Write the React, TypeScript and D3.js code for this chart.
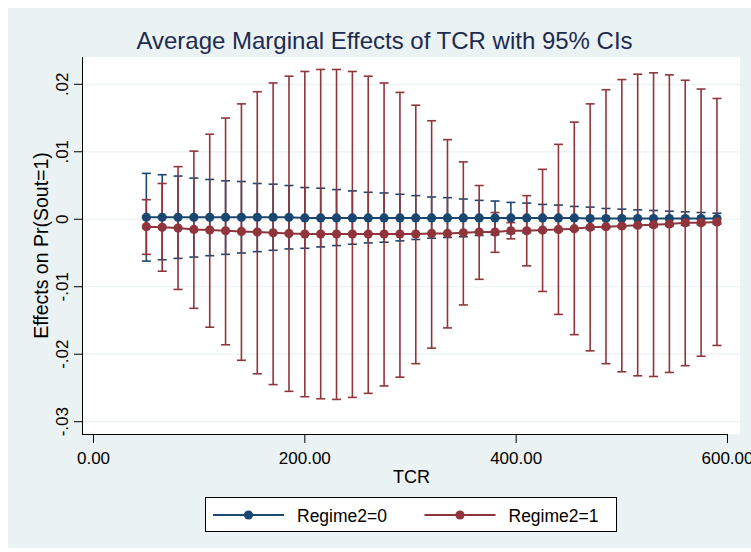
import * as d3 from "d3";

// TCR values on the x axis
const tcr = [
  50, 65, 80, 95, 110, 125, 140, 155, 170, 185, 200, 215, 230, 245, 260, 275,
  290, 305, 320, 335, 350, 365, 380, 395, 410, 425, 440, 455, 470, 485, 500,
  515, 530, 545, 560, 575, 590,
];

// Regime2=0
const meanR0 = [
  0.0003, 0.0003, 0.0003, 0.0003, 0.0003, 0.0003, 0.0003, 0.0003, 0.0003,
  0.0003, 0.0002, 0.0002, 0.0002, 0.0002, 0.0002, 0.0002, 0.0002, 0.0002,
  0.0002, 0.0002, 0.0002, 0.0002, 0.0002, 0.0002, 0.0002, 0.0002, 0.0002,
  0.0002, 0.0001, 0.0001, 0.0001, 0.0001, 0.0001, 0.0001, 0.0001, 0.0001,
  0.0001,
];
const lowR0 = [
  -0.0062, -0.006, -0.0058, -0.0056, -0.0054, -0.0052, -0.005, -0.0048,
  -0.0046, -0.0044, -0.0043, -0.0041, -0.0039, -0.0037, -0.0035, -0.0034,
  -0.0032, -0.003, -0.0028, -0.0027, -0.0026, -0.0024, -0.0023, -0.0021,
  -0.002, -0.0018, -0.0017, -0.0016, -0.0015, -0.0013, -0.0012, -0.0011,
  -0.0011, -0.001, -0.0009, -0.0008, -0.0007,
];
const highR0 = [
  0.0068, 0.0066, 0.0064, 0.0061, 0.0059, 0.0057, 0.0056, 0.0053, 0.0052,
  0.005, 0.0047, 0.0046, 0.0044, 0.0042, 0.004, 0.0039, 0.0037, 0.0035,
  0.0033, 0.0032, 0.003, 0.0028, 0.0027, 0.0025, 0.0024, 0.0022, 0.0021,
  0.0019, 0.0018, 0.0016, 0.0015, 0.0014, 0.0013, 0.0012, 0.0011, 0.001,
  0.0009,
];

// Regime2=1
const meanR1 = [
  -0.0011, -0.0012, -0.0013, -0.0015, -0.0016, -0.0017, -0.0018, -0.0019,
  -0.002, -0.0021, -0.0022, -0.0022, -0.0022, -0.0022, -0.0022, -0.0022,
  -0.0022, -0.0022, -0.0021, -0.0021, -0.002, -0.0019, -0.0019, -0.0017,
  -0.0017, -0.0016, -0.0015, -0.0014, -0.0012, -0.0011, -0.001, -0.0009,
  -0.0008, -0.0007, -0.0005, -0.0005, -0.0004,
];
const lowR1 = [
  -0.0052, -0.0077, -0.0104, -0.0132, -0.016, -0.0186, -0.0209, -0.0229,
  -0.0245, -0.0255, -0.0263, -0.0266, -0.0267, -0.0264, -0.0258, -0.0247,
  -0.0234, -0.0214, -0.0191, -0.0161, -0.0127, -0.0089, -0.0049, -0.0029,
  -0.0069, -0.0107, -0.0141, -0.0171, -0.0195, -0.0214, -0.0226, -0.0232,
  -0.0233, -0.0227, -0.0217, -0.0203, -0.0187,
];
const highR1 = [
  0.0029, 0.0053, 0.0078, 0.0101, 0.0126, 0.015, 0.0171, 0.0189, 0.0202,
  0.0212, 0.0219, 0.0222, 0.0222, 0.0219, 0.0212, 0.0202, 0.0188, 0.0169,
  0.0146, 0.0118, 0.0085, 0.005, 0.001, -0.0005, 0.0035, 0.0074, 0.0111,
  0.0144, 0.0171, 0.0192, 0.0207, 0.0215, 0.0217, 0.0214, 0.0206, 0.0193,
  0.0179,
];

const yTicks = [-0.03, -0.02, -0.01, 0, 0.01, 0.02];
const yTickLabels = ["-.03", "-.02", "-.01", "0", ".01", ".02"];
const xTicks = [0, 200, 400, 600];
const seriesNames = ["Regime2=0", "Regime2=1"];

const W = 751;
const H = 552;
const BG = "#EAF2F3";
const BLUE = "#1A476F";
const RED = "#90353B";
const FONT = "'Liberation Sans', Arial, Helvetica, sans-serif";

const plot = { left: 83, right: 740, top: 57, bottom: 434 };

const x = d3.scaleLinear().domain([0, 600]).range([93.5, 727.5]);
const y = d3.scaleLinear().domain([-0.03, 0.02]).range([421.7, 84.3]);

const series = [
  { name: seriesNames[0], color: BLUE, mean: meanR0, low: lowR0, high: highR0 },
  { name: seriesNames[1], color: RED, mean: meanR1, low: lowR1, high: highR1 },
];

const line = d3
  .line<number>()
  .x((_d, i) => x(tcr[i]))
  .y((d) => y(d));

const capHalf = 4.5;

export default function App() {
  return (
    <svg
      width={W}
      height={H}
      style={{ position: "absolute", left: 0, top: 0, fontFamily: FONT }}
    >
      <rect x={0} y={0} width={W} height={H} fill="#ffffff" />
      <rect x={8} y={8} width={W - 8} height={540} fill={BG} />
      <rect
        x={plot.left}
        y={plot.top}
        width={plot.right - plot.left}
        height={plot.bottom - plot.top}
        fill="#ffffff"
      />

      {/* grid */}
      {yTicks.map((t) => (
        <line
          key={"g" + t}
          x1={plot.left}
          x2={plot.right}
          y1={y(t)}
          y2={y(t)}
          stroke={BG}
          strokeWidth={1.2}
        />
      ))}

      {/* confidence intervals */}
      {series.map((s) => (
        <g key={"ci" + s.name} stroke={s.color} strokeWidth={1.6} fill="none">
          {tcr.map((t, i) => {
            const cx = x(t);
            return (
              <g key={i}>
                <line x1={cx} x2={cx} y1={y(s.low[i])} y2={y(s.high[i])} />
                <line
                  x1={cx - capHalf}
                  x2={cx + capHalf}
                  y1={y(s.low[i])}
                  y2={y(s.low[i])}
                />
                <line
                  x1={cx - capHalf}
                  x2={cx + capHalf}
                  y1={y(s.high[i])}
                  y2={y(s.high[i])}
                />
              </g>
            );
          })}
        </g>
      ))}

      {/* point estimates */}
      {series.map((s) => (
        <g key={"pt" + s.name}>
          <path d={line(s.mean) ?? ""} fill="none" stroke={s.color} strokeWidth={2} />
          {tcr.map((t, i) => (
            <circle key={i} cx={x(t)} cy={y(s.mean[i])} r={4.6} fill={s.color} />
          ))}
        </g>
      ))}

      {/* y axis */}
      <line x1={82.5} x2={82.5} y1={plot.top} y2={plot.bottom} stroke="#000" strokeWidth={1} />
      {yTicks.map((t, i) => (
        <g key={"yt" + t}>
          <line x1={74} x2={82.5} y1={y(t)} y2={y(t)} stroke="#000" strokeWidth={1} />
          <text
            transform={`translate(68,${y(t)}) rotate(-90)`}
            textAnchor="middle"
            fontSize={17}
            fill="#000"
          >
            {yTickLabels[i]}
          </text>
        </g>
      ))}
      <text
        transform={`translate(48,${(plot.top + plot.bottom) / 2}) rotate(-90)`}
        textAnchor="middle"
        fontSize={19.5}
        fill="#000"
      >
        Effects on Pr(Sout=1)
      </text>

      {/* x axis */}
      <line x1={82} x2={728} y1={434.5} y2={434.5} stroke="#000" strokeWidth={1} />
      {xTicks.map((t) => (
        <g key={"xt" + t}>
          <line x1={x(t)} x2={x(t)} y1={434.5} y2={443} stroke="#000" strokeWidth={1} />
          <text x={x(t)} y={463.5} textAnchor="middle" fontSize={17} fill="#000">
            {d3.format(".2f")(t)}
          </text>
        </g>
      ))}
      <text x={(plot.left + plot.right) / 2} y={483} textAnchor="middle" fontSize={18} fill="#000">
        TCR
      </text>

      {/* title */}
      <text x={384.5} y={49} textAnchor="middle" fontSize={24} fill="#1E2B50">
        Average Marginal Effects of TCR with 95% CIs
      </text>

      {/* legend */}
      <rect x={205.5} y={497.5} width={411} height={34} fill="#fff" stroke="#000" strokeWidth={1} />
      {series.map((s, i) => {
        const x0 = i === 0 ? 213 : 424.5;
        return (
          <g key={"lg" + s.name}>
            <line x1={x0} x2={x0 + 71} y1={515} y2={515} stroke={s.color} strokeWidth={2} />
            <circle cx={x0 + 35.5} cy={515} r={4.6} fill={s.color} />
            <text x={x0 + 84} y={521.5} fontSize={17.5} fill="#000">
              {s.name}
            </text>
          </g>
        );
      })}
    </svg>
  );
}
